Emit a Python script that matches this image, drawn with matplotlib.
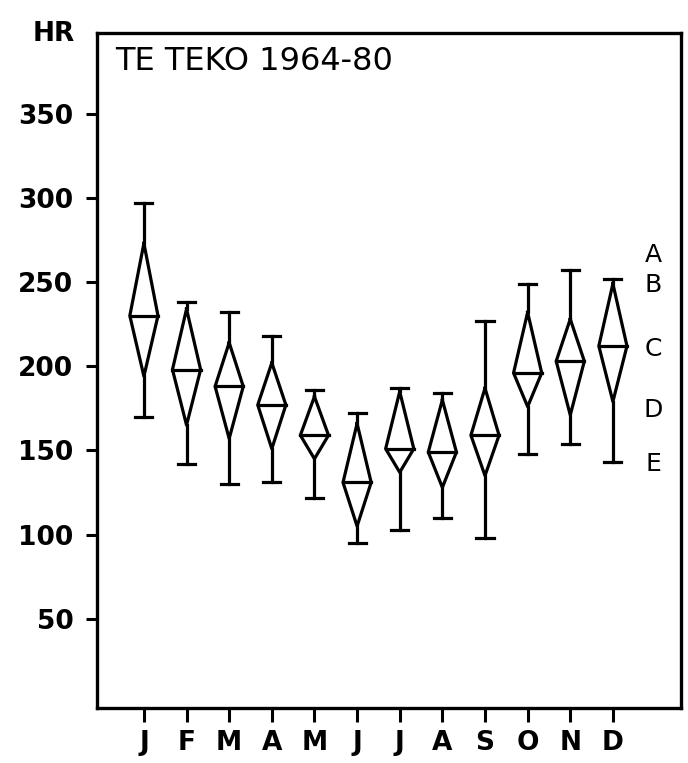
import matplotlib
matplotlib.use('Agg')
import matplotlib.pyplot as plt
import numpy as np

plt.rcParams['font.family'] = 'DejaVu Sans'

# Monthly sunshine hours, Te Teko 1964-80
months = ['J', 'F', 'M', 'A', 'M', 'J', 'J', 'A', 'S', 'O', 'N', 'D']
hr_max = [297, 238, 232, 218, 186, 172, 187, 184, 227, 249, 257, 252]
hr_upper = [273, 234, 214, 202, 182, 166, 185, 180, 187, 232, 228, 249]
hr_median = [230, 198, 188, 177, 159, 131, 151, 149, 159, 196, 203, 212]
hr_lower = [194, 165, 157, 151, 145, 105, 137, 128, 135, 176, 171, 179]
hr_min = [170, 142, 130, 131, 122, 95, 103, 110, 98, 148, 154, 143]

key_letters = ['A', 'B', 'C', 'D', 'E']
key_levels = [266, 248, 210, 174, 142]

fig = plt.figure(figsize=(6.88, 7.63), dpi=100)
ax = fig.add_axes([0.141, 0.072, 0.849, 0.885])

x = np.arange(1, len(months) + 1)
half_w = 0.33   # half-width of each diamond
cap_w = 0.2     # half-width of whisker caps
lw = 2.3

for i in range(len(months)):
    xi = x[i]
    # whiskers
    ax.plot([xi, xi], [hr_upper[i], hr_max[i]], color='black', lw=lw)
    ax.plot([xi, xi], [hr_min[i], hr_lower[i]], color='black', lw=lw)
    ax.plot([xi - cap_w, xi + cap_w], [hr_max[i], hr_max[i]], color='black', lw=lw)
    ax.plot([xi - cap_w, xi + cap_w], [hr_min[i], hr_min[i]], color='black', lw=lw)
    # diamond
    dx = [xi, xi + half_w, xi, xi - half_w, xi]
    dy = [hr_upper[i], hr_median[i], hr_lower[i], hr_median[i], hr_upper[i]]
    ax.plot(dx, dy, color='black', lw=lw, solid_joinstyle='round')
    # median line
    ax.plot([xi - half_w, xi + half_w], [hr_median[i], hr_median[i]], color='black', lw=lw)

# key letters on the right
for letter, lev in zip(key_letters, key_levels):
    ax.text(12.94, lev, letter, ha='center', va='center', fontsize=18)

ax.set_xlim(-0.1, 13.6)
ax.set_ylim(-3, 398)
ax.set_xticks(x)
ax.set_xticklabels(months, fontsize=19, fontweight='bold')
ax.set_yticks([50, 100, 150, 200, 250, 300, 350])
ax.set_yticklabels(['50', '100', '150', '200', '250', '300', '350'], fontsize=19, fontweight='bold')
ax.tick_params(axis='y', length=8, width=2.2, pad=9, direction='out')
ax.tick_params(axis='x', length=10, width=2.2, pad=6, direction='out')
for sp in ax.spines.values():
    sp.set_linewidth(2.4)

ax.text(0.031, 0.958, 'TE TEKO 1964-80', transform=ax.transAxes,
        ha='left', va='center', fontsize=23)
fig.text(0.078, 0.956, 'HR', ha='center', va='center', fontsize=19, fontweight='bold')

fig.savefig('out.png', dpi=100, facecolor='white')
